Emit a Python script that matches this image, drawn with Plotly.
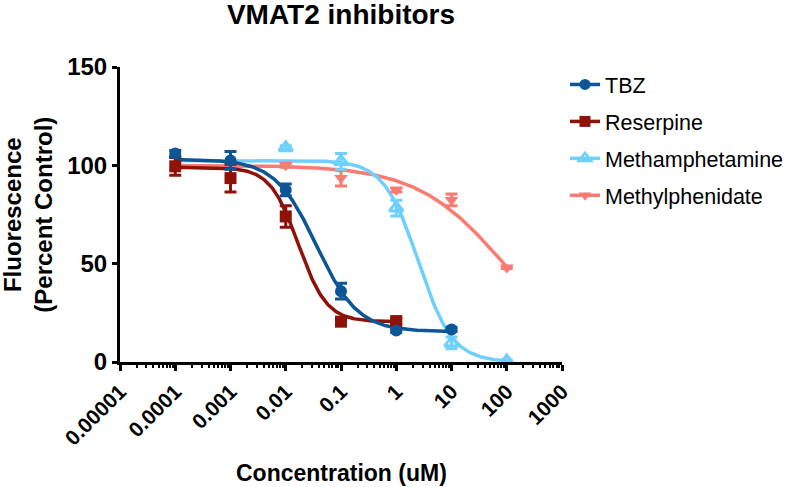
import numpy as np
import plotly.graph_objects as go

# ---- data ----
series_names = ["TBZ", "Reserpine", "Methamphetamine", "Methylphenidate"]
colors = ["#0c5596", "#8f1209", "#6fd0ff", "#fb7b72"]
symbols = ["circle", "square", "triangle-up-open", "triangle-down"]

tbz_x = [1e-4, 1e-3, 0.01, 0.1, 1, 10]
tbz_y = [106, 102.5, 87.5, 36, 16, 16.5]
tbz_err = [1.5, 4.5, 3, 4, 1, 1]

res_x = [1e-4, 1e-3, 0.01, 0.1, 1]
res_y = [99.5, 93.5, 74, 20.5, 20.8]
res_err = [4.5, 7, 5.5, 1, 1.5]

meth_x = [0.01, 0.1, 1, 10, 100]
meth_y = [109, 102, 78.3, 9.7, 0.5]
meth_err = [1, 4, 4, 3, 0.5]

mph_x = [0.01, 0.1, 1, 10, 100]
mph_y = [100, 93.5, 87.5, 82.4, 48]
mph_err = [1, 4, 1, 3, 0.5]

# 4-parameter logistic fit parameters (top, bottom, IC50 uM, hill) and curve span
fit_top = [103, 99, 102.5, 100]
fit_bottom = [15.5, 20.5, 0, 0]
fit_ic50 = [0.036, 0.017, 2.5, 89]
fit_hill = [1.16, 1.7, 1.4, 0.55]
curve_xmin = [1e-4, 1e-4, 1e-4, 1e-4]
curve_xmax = [10, 1, 100, 100]

x_tickvals = [1e-5, 1e-4, 1e-3, 1e-2, 1e-1, 1, 10, 100, 1000]
x_ticktext = ["0.00001", "0.0001", "0.001", "0.01", "0.1", "1", "10", "100", "1000"]
y_tickvals = [0, 50, 100, 150]

xs = [tbz_x, res_x, meth_x, mph_x]
ys = [tbz_y, res_y, meth_y, mph_y]
errs = [tbz_err, res_err, meth_err, mph_err]

FONT = "Liberation Sans, Arial, sans-serif"
W, H = 800, 487
fig = go.Figure()

# curves: draw light ones underneath
for i in [3, 2, 1, 0]:
    cx = np.logspace(np.log10(curve_xmin[i]), np.log10(curve_xmax[i]), 300)
    cy = fit_bottom[i] + (fit_top[i] - fit_bottom[i]) / (1 + (cx / fit_ic50[i]) ** fit_hill[i])
    fig.add_trace(go.Scatter(x=cx, y=cy, mode="lines", line=dict(color=colors[i], width=3.5),
                             showlegend=False, hoverinfo="skip"))

# markers with error bars
for i in [3, 2, 1, 0]:
    fig.add_trace(go.Scatter(
        x=xs[i], y=ys[i], mode="markers",
        marker=dict(symbol=symbols[i], color=colors[i], size=12,
                    line=dict(color=colors[i], width=3 if "open" in symbols[i] else 0)),
        error_y=dict(type="data", array=errs[i], visible=True, color=colors[i],
                     thickness=3, width=6),
        showlegend=False))

# legend entries
for i in range(4):
    fig.add_trace(go.Scatter(
        x=[None], y=[None], mode="lines+markers", name=series_names[i],
        legendgroup=series_names[i],
        line=dict(color=colors[i], width=3.5),
        marker=dict(symbol=symbols[i], color=colors[i], size=11,
                    line=dict(color=colors[i], width=2.5 if "open" in symbols[i] else 0))))

fig.update_layout(
    width=W, height=H,
    margin=dict(l=120, r=237, t=67, b=125),
    plot_bgcolor="white", paper_bgcolor="white",
    font=dict(family=FONT, color="black"),
    title=dict(text="<b>VMAT2 inhibitors</b>", x=0.5, xref="paper", y=1 - 14 / H,
               yref="container", xanchor="center", yanchor="middle",
               font=dict(size=28, family=FONT, color="black")),
    showlegend=True,
    legend=dict(x=1.0045, y=1.0102, xanchor="left", yanchor="top",
                font=dict(size=21.5, family=FONT, color="black"),
                traceorder="grouped", tracegroupgap=6, itemwidth=30,
                borderwidth=0, bgcolor="rgba(0,0,0,0)"),
    xaxis=dict(type="log", range=[-5, 3], showgrid=False, zeroline=False,
               showline=True, linecolor="black", linewidth=3,
               tickmode="array", tickvals=x_tickvals, ticktext=x_ticktext,
               ticks="outside", ticklen=6, tickwidth=3, tickcolor="black",
               tickangle=-45, tickfont=dict(size=21, family=FONT, color="black", weight="bold"),
               minor=dict(tickvals=[m * 10 ** e for e in range(-5, 3) for m in range(2, 10)],
                          ticks="outside", ticklen=3, tickwidth=2, tickcolor="black",
                          showgrid=False)),
    yaxis=dict(range=[0, 150], showgrid=False, zeroline=False,
               showline=True, linecolor="black", linewidth=3,
               tickmode="array", tickvals=y_tickvals,
               ticks="outside", ticklen=5, tickwidth=3, tickcolor="black",
               tickfont=dict(size=24, family=FONT, color="black", weight="bold")),
)

fig.add_annotation(text="<b>Fluorescence</b><br><b>(Percent Control)</b>",
                   xref="paper", yref="paper", x=(27 - 120) / 443, y=0.5,
                   xanchor="center", yanchor="middle", textangle=-90, showarrow=False,
                   font=dict(size=24, family=FONT, color="black"))
fig.add_annotation(text="<b>Concentration (uM)</b>",
                   xref="paper", yref="paper", x=0.5, y=(362 - 473) / 295,
                   xanchor="center", yanchor="middle", showarrow=False,
                   font=dict(size=23, family=FONT, color="black"))

fig.write_html("out.html", config={"displayModeBar": False},
               post_script="document.body.style.margin='0';document.body.style.overflow='hidden';")
